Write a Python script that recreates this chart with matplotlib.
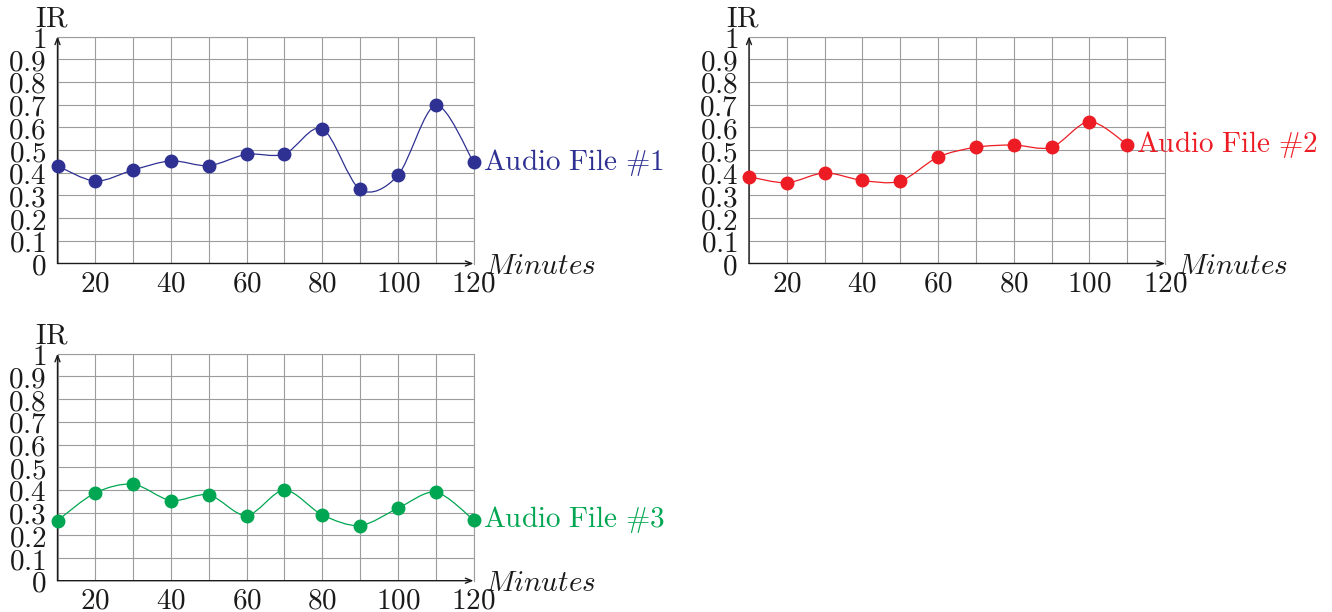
import numpy as np
import matplotlib
matplotlib.use("Agg")
import matplotlib.pyplot as plt
from matplotlib.path import Path
from matplotlib.patches import PathPatch

plt.rcParams["mathtext.fontset"] = "cm"

# IR per audio file, sampled every 10 minutes
minutes_1 = [10, 20, 30, 40, 50, 60, 70, 80, 90, 100, 110, 120]
ir_file_1 = [0.43, 0.363, 0.412, 0.452, 0.431, 0.481, 0.482, 0.594, 0.326, 0.388, 0.697, 0.447]

minutes_2 = [10, 20, 30, 40, 50, 60, 70, 80, 90, 100, 110]
ir_file_2 = [0.382, 0.356, 0.399, 0.366, 0.363, 0.469, 0.512, 0.522, 0.512, 0.625, 0.524]

minutes_3 = [10, 20, 30, 40, 50, 60, 70, 80, 90, 100, 110, 120]
ir_file_3 = [0.265, 0.387, 0.425, 0.353, 0.378, 0.287, 0.399, 0.290, 0.243, 0.319, 0.390, 0.268]

labels = ["Audio File #1", "Audio File #2", "Audio File #3"]
colors = ["#2E3192", "#ED1C24", "#00A651"]

x_ticks = [20, 40, 60, 80, 100, 120]
y_ticks = [0, 0.1, 0.2, 0.3, 0.4, 0.5, 0.6, 0.7, 0.8, 0.9, 1]
y_tick_labels = ["0", "0.1", "0.2", "0.3", "0.4", "0.5", "0.6", "0.7", "0.8", "0.9", "1"]

FS = 21
GRID = "#9c9c9c"


def smooth_path(xs, ys, tension=0.55):
    # cubic bezier through the points, like tikz "smooth"
    k = 0.2775 * tension
    pts = np.column_stack([xs, ys]).astype(float)
    n = len(pts)
    verts = [pts[0]]
    codes = [Path.MOVETO]
    for i in range(n - 1):
        p0 = pts[max(i - 1, 0)]
        p1 = pts[i]
        p2 = pts[i + 1]
        p3 = pts[min(i + 2, n - 1)]
        verts += [p1 + k * (p2 - p0), p2 - k * (p3 - p1), p2]
        codes += [Path.CURVE4] * 3
    return Path(verts, codes)


def draw_panel(ax, xs, ys, label, color):
    ax.set_xlim(10, 120)
    ax.set_ylim(0, 1)
    ax.set_xticks(range(10, 121, 10), minor=True)
    ax.set_xticks(x_ticks)
    ax.set_xticklabels(["$%d$" % t for t in x_ticks], fontsize=FS)
    ax.set_yticks(y_ticks)
    ax.set_yticklabels(["$%s$" % t for t in y_tick_labels], fontsize=FS)
    ax.tick_params(which="both", length=0, colors="#1a1a1a")
    ax.tick_params(axis="x", pad=4.5)
    ax.tick_params(axis="y", pad=8)
    ax.grid(which="both", axis="x", color=GRID, lw=0.8)
    ax.grid(which="major", axis="y", color=GRID, lw=0.8)
    ax.set_axisbelow(True)
    for side in ["top", "right"]:
        ax.spines[side].set_color(GRID)
        ax.spines[side].set_linewidth(0.8)
    for side in ["left", "bottom"]:
        ax.spines[side].set_visible(False)

    # axis lines with arrow tips
    arrow = dict(arrowstyle="->,head_length=0.45,head_width=0.18", lw=1.0,
                 color="#1a1a1a", shrinkA=0, shrinkB=0)
    ax.annotate("", xy=(0, 1), xytext=(0, 0), xycoords="axes fraction",
                arrowprops=arrow, annotation_clip=False)
    ax.annotate("", xy=(1, 0), xytext=(0, 0), xycoords="axes fraction",
                arrowprops=arrow, annotation_clip=False)

    ax.add_patch(PathPatch(smooth_path(xs, ys), facecolor="none",
                           edgecolor=color, lw=0.9, zorder=3))
    ax.plot(xs, ys, "o", color=color, markersize=9, zorder=4, clip_on=False)

    ax.annotate(r"$\mathrm{%s}$" % label.replace(" ", r"\ ").replace("#", r"\#"),
                xy=(xs[-1], ys[-1]), xytext=(6.5, 0), textcoords="offset points",
                ha="left", va="center", fontsize=FS, color=color,
                annotation_clip=False)
    ax.annotate("$Minutes$", xy=(1, 0), xycoords="axes fraction",
                xytext=(8.5, -7.5), textcoords="offset points",
                ha="left", va="baseline", fontsize=FS, color="#1a1a1a")
    ax.annotate(r"$\mathrm{IR}$", xy=(0, 1), xycoords="axes fraction",
                xytext=(-4, 7), textcoords="offset points",
                ha="center", va="baseline", fontsize=FS, color="#1a1a1a")


fig = plt.figure(figsize=(13.32, 6.12), dpi=100)
W, H = 1332, 612
aw, ah = 416, 227
ax1 = fig.add_axes([57.5 / W, (H - 263.5) / H, aw / W, ah / H])
ax2 = fig.add_axes([749 / W, (H - 263.5) / H, aw / W, ah / H])
ax3 = fig.add_axes([57.5 / W, (H - 580.7) / H, aw / W, ah / H])

draw_panel(ax1, minutes_1, ir_file_1, labels[0], colors[0])
draw_panel(ax2, minutes_2, ir_file_2, labels[1], colors[1])
draw_panel(ax3, minutes_3, ir_file_3, labels[2], colors[2])

fig.savefig("out.png", dpi=100)
